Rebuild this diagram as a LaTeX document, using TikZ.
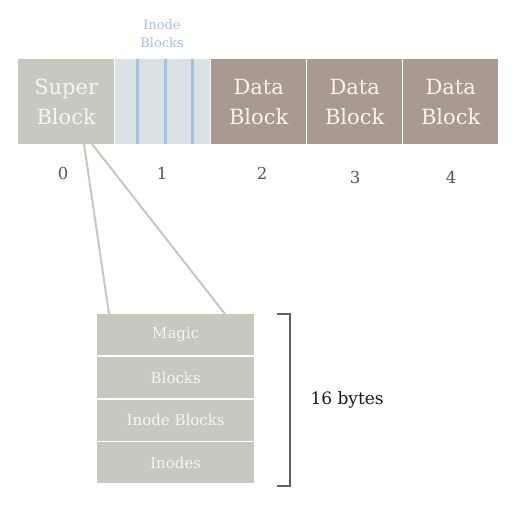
\documentclass[tikz,border=0pt]{standalone}
\usepackage{fontspec}
\setmainfont{DejaVu Serif}
\definecolor{sbfill}{HTML}{C5C9C0}
\definecolor{inofill}{HTML}{DAE2E6}
\definecolor{datafill}{HTML}{A89A91}
\definecolor{inoline}{HTML}{A4C2E6}
\definecolor{numcol}{HTML}{555555}
\definecolor{brcol}{HTML}{5E5E5E}
\definecolor{txtw}{HTML}{F7F5F0}
\begin{document}
\begin{tikzpicture}[x=1pt,y=-1pt,
  blk/.style={draw=none,minimum width=96pt,minimum height=85pt,inner sep=0pt,anchor=north west,
    text=txtw,font=\fontsize{21}{30}\selectfont,align=center},
  rowbox/.style={fill=sbfill,minimum width=157pt,minimum height=41pt,inner sep=0pt,anchor=north west,
    text=txtw,font=\fontsize{15}{18}\selectfont},
  num/.style={text=numcol,font=\fontsize{16.5}{18}\selectfont},
  link/.style={draw=sbfill,line width=2pt}]
\useasboundingbox (0,0) rectangle (512,506);
\fill[white] (0,0) rectangle (512,506);
% top row
\node[blk,fill=sbfill] (sb) at (18,59) {Super\\Block};
\node[blk,fill=inofill,minimum width=95pt] (ib) at (115,59) {};
\node[blk,fill=datafill,minimum width=95pt] (d2) at (211,59) {Data\\Block};
\node[blk,fill=datafill,minimum width=95pt] (d3) at (307,59) {Data\\Block};
\node[blk,fill=datafill,minimum width=95pt] (d4) at (403,59) {Data\\Block};
% inode lines
\foreach \xx/\nm in {137/l1,165/l2,192.7/l3}{
  \coordinate (\nm t) at (\xx,59);
  \coordinate (\nm b) at (\xx,144);
  \draw[inoline,line width=3pt] (\nm t) -- (\nm b);
}
\node[text=inoline,font=\fontsize{13}{18}\selectfont,align=center] (iblab) at (162,34) {Inode\\Blocks};
% numbers
\node[num] (n0) at (63,173) {0};
\node[num] (n1) at (162,173) {1};
\node[num] (n2) at (262,173) {2};
\node[num] (n3) at (355,177) {3};
\node[num] (n4) at (451,177) {4};
% table
\node[rowbox] (magic) at (97,314) {Magic};
\node[rowbox] (blocks) at (97,357) {Blocks};
\node[rowbox] (iblocks) at (97,399.5) {Inode Blocks};
\node[rowbox] (inodes) at (97,442) {Inodes};
% links
\coordinate (sa) at (84,144);
\coordinate (sb2) at (92,144);
\coordinate (ta) at (109,314);
\coordinate (tb) at (225,314);
\draw[link] (sa) -- (ta);
\draw[link] (sb2) -- (tb);
% bracket
\coordinate (br1) at (277,313.5);
\coordinate (br2) at (289.5,313.5);
\coordinate (br3) at (289.5,485.5);
\coordinate (br4) at (277,485.5);
\draw[brcol,line width=2pt] (br1) -- (br2) -- (br3) -- (br4);
\node[anchor=west,font=\fontsize{17}{20}\selectfont,text=black!90] (bytes) at (307,400) {16 bytes};
\end{tikzpicture}
\end{document}
